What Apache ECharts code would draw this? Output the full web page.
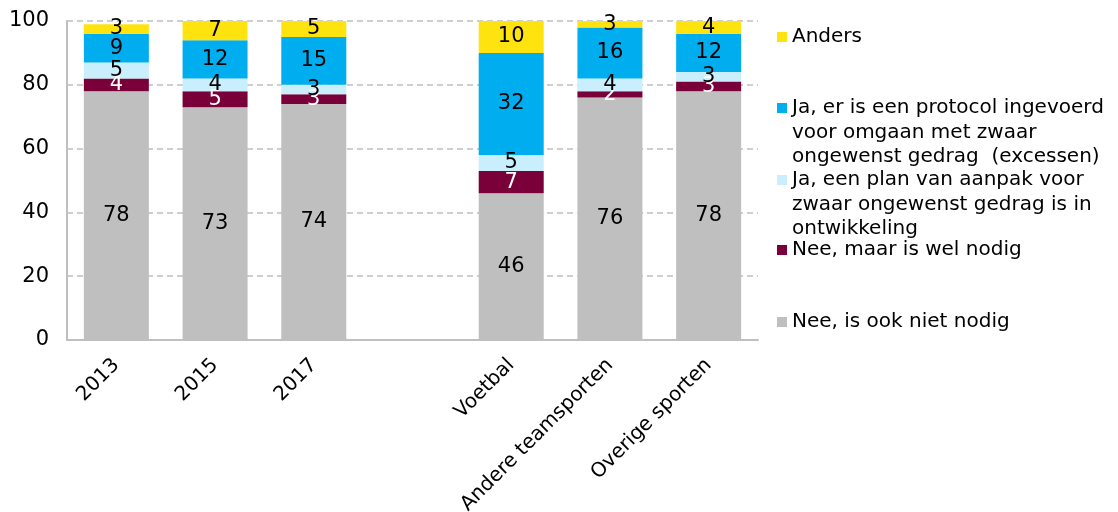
<!DOCTYPE html>
<html>
<head>
<meta charset="utf-8">
<script src="https://cdn.jsdelivr.net/npm/echarts@6/dist/echarts.min.js"></script>
<style>
    html, body { margin: 0; padding: 0; background: #fff; }
    #chart { width: 1118px; height: 512px; }
</style>
</head>
<body>
<div id="chart"></div>
<script>
// categorieen (lege plek tussen jaren en sporten)
const categories = ['2013', '2015', '2017', '', 'Voetbal', 'Andere teamsporten', 'Overige sporten'];

const neeNietNodig = [78, 73, 74, '-', 46, 76, 78];
const neeWelNodig  = [4, 5, 3, '-', 7, 2, 3];
const jaPlan       = [5, 4, 3, '-', 5, 4, 3];
const jaProtocol   = [9, 12, 15, '-', 32, 16, 12];
const anders       = [3, 7, 5, '-', 10, 3, 4];

const yTicks = [0, 20, 40, 60, 80, 100];

const names = {
    nietNodig: 'Nee, is ook niet nodig',
    welNodig: 'Nee, maar is wel nodig',
    plan: 'Ja, een plan van aanpak voor\nzwaar ongewenst gedrag is in\nontwikkeling',
    protocol: 'Ja, er is een protocol ingevoerd\nvoor omgaan met zwaar\nongewenst gedrag  (excessen)',
    anders: 'Anders'
};

const font = 'DejaVu Sans';
const lineH = 24.5;

function bar(name, data, color, labelColor) {
    return {
        name: name,
        type: 'bar',
        stack: 'totaal',
        barWidth: 65,
        data: data,
        itemStyle: { color: color },
        label: {
            show: true,
            position: 'inside',
            color: labelColor,
            fontFamily: font,
            fontSize: 21
        }
    };
}

// legenda: een per item; blokje staat bij de eerste regel
function legend(name, iconY, lines) {
    const h = lines * lineH;
    const sq = (lineH - 10) / 2;
    let icon = 'rect';
    let itemH = 10;
    if (lines > 1) {
        icon = 'path://M0,' + sq + 'h10v10h-10z M0,0h0.01v0.01h-0.01z M0,' + (h - 0.01) + 'h0.01v0.01h-0.01z';
        itemH = h;
    }
    return {
        data: [name],
        left: 777,
        top: iconY - lineH / 2,
        padding: 0,
        icon: icon,
        itemWidth: 10,
        itemHeight: itemH,
        itemGap: 0,
        selectedMode: false,
        textStyle: {
            fontFamily: font,
            fontSize: 20,
            color: '#000',
            lineHeight: lineH
        }
    };
}

let myChart = echarts.init(document.getElementById('chart'));
myChart.setOption({
    animation: false,
    textStyle: { fontFamily: font },
    grid: { left: 67, right: 360, top: 21, bottom: 172, outerBoundsMode: 'none' },
    legend: [
        legend(names.anders, 37, 1),
        legend(names.protocol, 108, 3),
        legend(names.plan, 180, 3),
        legend(names.welNodig, 250, 1),
        legend(names.nietNodig, 322, 1)
    ],
    xAxis: {
        type: 'category',
        data: categories,
        axisTick: { show: false },
        axisLine: { lineStyle: { color: '#BFBFBF', width: 2 } },
        axisLabel: {
            rotate: 45,
            interval: 0,
            color: '#000',
            fontFamily: font,
            fontSize: 20,
            margin: 22
        }
    },
    yAxis: {
        type: 'value',
        min: yTicks[0],
        max: yTicks[yTicks.length - 1],
        interval: 20,
        axisLine: { show: true, lineStyle: { color: '#BFBFBF', width: 2 } },
        axisTick: { show: false },
        axisLabel: { color: '#000', fontFamily: font, fontSize: 21, margin: 18 },
        splitLine: { lineStyle: { color: '#BFBFBF', type: [6, 4], width: 1.5 } }
    },
    series: [
        bar(names.nietNodig, neeNietNodig, '#BFBFBF', '#000'),
        bar(names.welNodig, neeWelNodig, '#7A0039', '#fff'),
        bar(names.plan, jaPlan, '#C9EEFC', '#000'),
        bar(names.protocol, jaProtocol, '#00AEEF', '#000'),
        bar(names.anders, anders, '#FFE30F', '#000')
    ]
});
</script>
</body>
</html>
